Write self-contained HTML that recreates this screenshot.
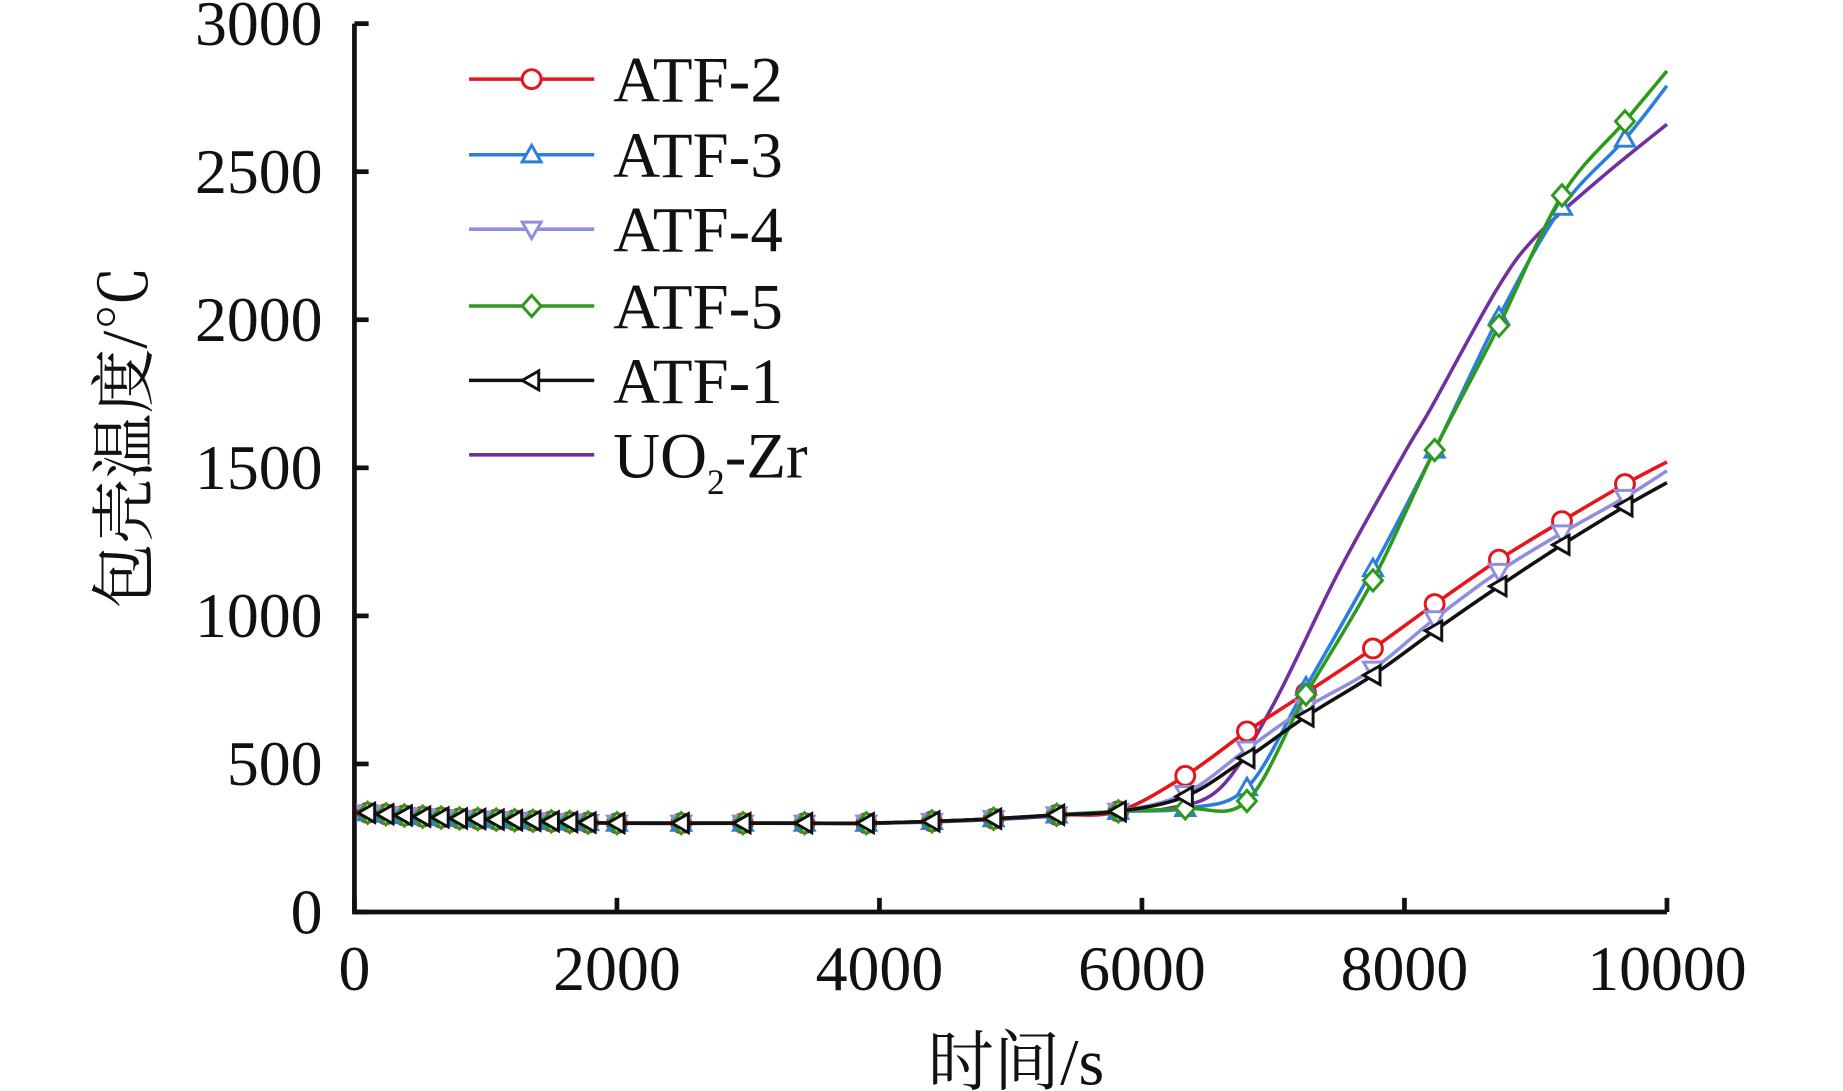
<!DOCTYPE html>
<html><head><meta charset="utf-8"><style>
html,body{margin:0;padding:0;background:#fff;}
svg{display:block;}
text{font-family:"Liberation Serif","Noto Serif CJK SC",serif;fill:#111;}
</style></head>
<body>
<svg id="chart" width="1843" height="1091" viewBox="0 0 1560 923.5" xmlns="http://www.w3.org/2000/svg">
<g id="axes"></g>
<g id="series"></g>
<g id="legend"></g>
<text x="860" y="918" font-size="56" text-anchor="middle">时间/s</text>
<text transform="translate(124,370) rotate(-90)" font-size="55" text-anchor="middle">包壳温度/℃</text>
</svg>
<script>
const times=[100,240,380,520,660,800,940,1080,1220,1360,1500,1640,1780,2000,2490,2960,3430,3900,4400,4870,5350,5820,6330,6800,7250,7760,8230,8720,9200,9680,10000];
const base=[335,330,326,322,319,316,314,312,310,308,306,304,302,300,300,300,300,300,306,315,328,340];
const atf1=base.concat([390,520,660,800,950,1100,1240,1370,1450]);
const atf2=base.concat([460,610,740,890,1040,1190,1320,1445,1520]);
const atf4=base.concat([400,550,690,820,990,1150,1280,1400,1490]);
const atf3=base.concat([350,420,760,1160,1560,2010,2380,2610,2790]);
const atf5=base.concat([350,375,735,1120,1560,1980,2420,2670,2840]);
const uo2Times=[100,1000,2000,3000,4000,5000,5800,6200,6600,7000,7500,8000,8200,8700,9000,9500,10000];
const uo2=[335,312,300,300,300,315,340,350,420,700,1150,1550,1700,2100,2280,2480,2660];
const xTicks=[0,2000,4000,6000,8000,10000];
const yTicks=[0,500,1000,1500,2000,2500,3000];
const NS="http://www.w3.org/2000/svg";
const X0=300,X1=1411,Y0=772,Y1=20;
function sx(v){return X0+(v/10000)*(X1-X0);}
function sy(v){return Y0-(v/3000)*(Y0-Y1);}
function mk(tag,attrs,parent){const e=document.createElementNS(NS,tag);for(const k in attrs)e.setAttribute(k,attrs[k]);parent.appendChild(e);return e;}
const axes=document.getElementById('axes');
let a=mk('path',{d:`M${X0},${Y1} V${Y0} H${X1}`,fill:'none',stroke:'#111','stroke-width':4},axes);


xTicks.forEach(t=>{
 const l=mk('line',{x1:sx(t),x2:sx(t),y1:Y0,y2:Y0-12,stroke:'#111','stroke-width':4},axes);
 
 
 const tx=mk('text',{x:sx(t),y:Y0+66,'font-size':54,'text-anchor':'middle'},axes);tx.textContent=t;
 
 
});
yTicks.forEach(t=>{
 const l=mk('line',{x1:X0,x2:X0+12,y1:sy(t),y2:sy(t),stroke:'#111','stroke-width':4},axes);
 
 
 const tx=mk('text',{x:X0-27,y:sy(t)+18,'font-size':54,'text-anchor':'end'},axes);tx.textContent=t;
 
 
});
function spline(xs,ys){
 const p=xs.map((x,i)=>[sx(x),sy(ys[i])]);
 let d=`M${p[0][0]},${p[0][1]}`;
 for(let i=0;i<p.length-1;i++){
  const p0=p[Math.max(0,i-1)],p1=p[i],p2=p[i+1],p3=p[Math.min(p.length-1,i+2)];
  const c1=[p1[0]+(p2[0]-p0[0])/6,p1[1]+(p2[1]-p0[1])/6];
  const c2=[p2[0]-(p3[0]-p1[0])/6,p2[1]-(p3[1]-p1[1])/6];
  d+=` C${c1[0]},${c1[1]} ${c2[0]},${c2[1]} ${p2[0]},${p2[1]}`;
 }
 return d;
}
function marker(type,x,y,color,parent){
 const r=8;let e;
 if(type==='circle')e=mk('circle',{cx:x,cy:y,r:r},parent);
 else{
  let pts;
  if(type==='up')pts=[[x,y-r],[x+r,y+r*0.75],[x-r,y+r*0.75]];
  else if(type==='down')pts=[[x,y+r],[x+r,y-r*0.75],[x-r,y-r*0.75]];
  else if(type==='diamond')pts=[[x,y-r-1],[x+r,y],[x,y+r+1],[x-r,y]];
  else pts=[[x-r,y],[x+r*0.75,y-r],[x+r*0.75,y+r]];
  e=mk('polygon',{points:pts.map(q=>q.join(',')).join(' ')},parent);
 }
 e.setAttribute('fill','#fff');e.setAttribute('stroke',color);e.setAttribute('stroke-width',2.5);
 return e;
}
const seriesG=document.getElementById('series');
const defs=[
 {name:'uo2-zr',xs:uo2Times,ys:uo2,color:'#7030a0',m:null},
 {name:'atf-2',xs:times,ys:atf2,color:'#e8141c',m:'circle'},
 {name:'atf-3',xs:times,ys:atf3,color:'#2b7fdc',m:'up'},
 {name:'atf-4',xs:times,ys:atf4,color:'#8f8fe0',m:'down'},
 {name:'atf-5',xs:times,ys:atf5,color:'#2e9a1c',m:'diamond'},
 {name:'atf-1',xs:times,ys:atf1,color:'#111',m:'left'}
];
defs.forEach(s=>{
 const g=mk('g',{},seriesG);
 
 
 const p=mk('path',{d:spline(s.xs,s.ys),fill:'none',stroke:s.color,'stroke-width':3},g);
 
 
 if(s.m){s.xs.forEach((t,i)=>{if(i===s.xs.length-1)return;
  const m=marker(s.m,sx(t),sy(s.ys[i]),s.color,g);
  
  
 });}
});
const legend=document.getElementById('legend');
const leg=[['ATF-2','#e8141c','circle'],['ATF-3','#2b7fdc','up'],['ATF-4','#8f8fe0','down'],['ATF-5','#2e9a1c','diamond'],['ATF-1','#111','left'],['UO2-Zr','#7030a0',null]];
const legY=[67,131,194,259,322,385];
leg.forEach((L,i)=>{
 const g=mk('g',{},legend);
 
 
 mk('line',{x1:397,x2:503,y1:legY[i],y2:legY[i],stroke:L[1],'stroke-width':3},g);
 if(L[2])marker(L[2],450,legY[i],L[1],g);
 const t=mk('text',{x:519,y:legY[i]+19,'font-size':55},g);
 if(L[0]==='UO2-Zr'){t.innerHTML='UO<tspan font-size="30" dy="14">2</tspan><tspan dy="-14">-Zr</tspan>';}
 else t.textContent=L[0];
});
</script>
</body></html>
